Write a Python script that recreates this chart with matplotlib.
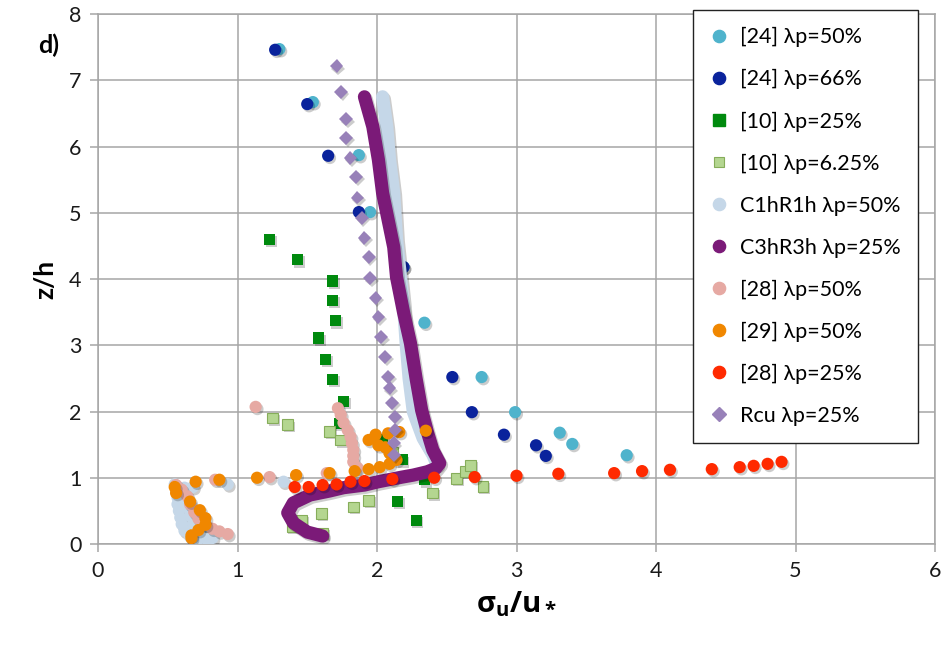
import matplotlib
matplotlib.use("Agg")
import matplotlib.pyplot as plt
from matplotlib.lines import Line2D
import matplotlib.patheffects as pe

plt.rcParams['font.family'] = ['Lato', 'DejaVu Sans']
plt.rcParams['mathtext.fontset'] = 'custom'
plt.rcParams['mathtext.rm'] = 'Open Sans:bold'
plt.rcParams['mathtext.it'] = 'Open Sans:bold'
plt.rcParams['mathtext.bf'] = 'Open Sans:bold'

# ---------------- data ----------------
# [24] lambda_p = 50%
s24_50_x = [1.30, 1.54, 1.87, 1.95, 2.19, 2.34, 2.75, 2.99, 3.31, 3.40, 3.79]
s24_50_y = [7.47, 6.67, 5.87, 5.01, 4.18, 3.34, 2.52, 1.99, 1.68, 1.51, 1.34]
# [24] lambda_p = 66%
s24_66_x = [1.27, 1.50, 1.65, 1.87, 2.19, 2.54, 2.68, 2.91, 3.14, 3.21]
s24_66_y = [7.46, 6.64, 5.86, 5.01, 4.18, 2.52, 1.99, 1.65, 1.49, 1.33]
# [10] lambda_p = 25%
s10_25_x = [1.23, 1.43, 1.68, 1.68, 1.70, 1.58, 1.63, 1.68, 1.76, 1.73, 2.04, 2.18, 2.34, 2.15, 2.28]
s10_25_y = [4.60, 4.29, 3.97, 3.68, 3.37, 3.11, 2.79, 2.48, 2.15, 1.82, 1.57, 1.27, 0.97, 0.64, 0.36]
# [10] lambda_p = 6.25%
s10_6_x = [1.25, 1.36, 1.66, 1.74, 2.11, 1.94, 1.83, 1.60, 1.46, 1.39, 1.61, 2.40, 2.76, 2.57, 2.63, 2.67]
s10_6_y = [1.90, 1.80, 1.70, 1.57, 1.39, 0.66, 0.56, 0.46, 0.36, 0.26, 0.16, 0.77, 0.87, 0.99, 1.09, 1.19]
# C1hR1h lambda_p = 50% (dense profile + near-ground points)
c1_trace_x = [2.04, 2.07, 2.09, 2.12, 2.14, 2.16, 2.19, 2.21, 2.23, 2.26, 2.33, 2.40, 2.43]
c1_trace_y = [6.75, 6.30, 5.80, 5.30, 4.60, 4.20, 3.60, 3.00, 2.50, 2.00, 1.60, 1.35, 1.20]
c1_pts_x = [1.33, 0.93, 0.68, 0.55, 0.56, 0.57, 0.57, 0.58, 0.59, 0.60, 0.62, 0.66, 0.72, 0.78, 0.82,
            0.62, 0.63, 0.64, 0.66, 0.68, 0.72, 0.76]
c1_pts_y = [0.94, 0.90, 0.86, 0.90, 0.80, 0.70, 0.60, 0.50, 0.40, 0.30, 0.20, 0.11, 0.07, 0.07, 0.09,
            0.85, 0.70, 0.55, 0.42, 0.30, 0.20, 0.12]
# C3hR3h lambda_p = 25% (dense profile)
c3_x = [1.91, 1.97, 2.01, 2.04, 2.08, 2.12, 2.14, 2.19, 2.24, 2.28, 2.32, 2.36, 2.40, 2.45, 2.42,
        2.36, 2.26, 2.18, 2.01, 1.91, 1.76, 1.66, 1.52, 1.40, 1.36, 1.40, 1.50, 1.61]
c3_y = [6.75, 6.30, 5.80, 5.30, 4.89, 4.48, 4.03, 3.50, 3.03, 2.50, 2.02, 1.70, 1.42, 1.22, 1.14,
        1.09, 1.04, 1.01, 0.94, 0.89, 0.85, 0.80, 0.74, 0.62, 0.47, 0.32, 0.18, 0.12]
# [28] lambda_p = 50%
s28_50_x = [1.13, 1.23, 0.84, 1.64, 1.72, 1.74, 1.76, 1.79, 1.81, 1.82, 1.83, 1.83, 1.83, 1.86,
            0.56, 0.60, 0.64, 0.66, 0.69, 0.72, 0.77, 0.82, 0.87, 0.93]
s28_50_y = [2.07, 1.01, 0.97, 1.07, 2.05, 1.95, 1.83, 1.72, 1.62, 1.52, 1.42, 1.33, 1.24, 1.15,
            0.89, 0.82, 0.72, 0.60, 0.48, 0.38, 0.29, 0.23, 0.19, 0.15]
# [29] lambda_p = 50%
s29_50_x = [0.67, 0.67, 0.72, 0.77, 0.77, 0.73, 0.66, 0.56, 0.55, 0.70, 0.87, 1.14, 1.42, 1.66,
            1.84, 1.94, 2.02, 2.09, 2.14, 2.09, 2.06, 2.01, 1.94, 1.99, 2.08, 2.16, 2.35]
s29_50_y = [0.09, 0.13, 0.21, 0.29, 0.39, 0.51, 0.64, 0.77, 0.86, 0.94, 0.97, 1.00, 1.04, 1.07,
            1.10, 1.13, 1.16, 1.21, 1.27, 1.37, 1.46, 1.49, 1.57, 1.65, 1.67, 1.69, 1.71]
# [28] lambda_p = 25%
s28_25_x = [1.41, 1.51, 1.61, 1.71, 1.81, 1.91, 2.11, 2.41, 2.70, 3.00, 3.30, 3.70, 3.90, 4.10,
            4.40, 4.60, 4.70, 4.80, 4.90]
s28_25_y = [0.86, 0.86, 0.89, 0.90, 0.94, 0.95, 0.98, 1.00, 1.01, 1.03, 1.06, 1.07, 1.10, 1.12,
            1.13, 1.16, 1.18, 1.21, 1.24]
# Rcu lambda_p = 25%
rcu_x = [1.71, 1.74, 1.78, 1.78, 1.81, 1.85, 1.86, 1.89, 1.91, 1.94, 1.95, 1.99, 2.01, 2.03,
         2.06, 2.08, 2.09, 2.11, 2.13, 2.13, 2.12, 2.12]
rcu_y = [7.21, 6.82, 6.41, 6.13, 5.83, 5.54, 5.23, 4.92, 4.62, 4.33, 4.01, 3.71, 3.43, 3.12,
         2.82, 2.52, 2.35, 2.13, 1.92, 1.72, 1.52, 1.34]

labels = ['[24] λp=50%', '[24] λp=66%', '[10] λp=25%', '[10] λp=6.25%', 'C1hR1h λp=50%',
          'C3hR3h λp=25%', '[28] λp=50%', '[29] λp=50%', '[28] λp=25%', 'Rcu λp=25%']
x_ticks = [0, 1, 2, 3, 4, 5, 6]
y_ticks = [0, 1, 2, 3, 4, 5, 6, 7, 8]

# ---------------- style ----------------
c24_50 = '#4fb3cc'
c24_66 = '#0a239c'
c10_25 = '#008a0e'
c10_6f, c10_6e = '#b4d690', '#86ad5a'
c1 = '#c5d7e8'
c3 = '#7b1a78'
c28_50 = '#e6a9a3'
c29 = '#f08700'
c28_25 = '#ff2a00'
crcu = '#9881b9'
grid_c = '#a6a6a6'

shadow = [pe.SimplePatchShadow(offset=(1.3, -1.6), shadow_rgbFace='#000000', alpha=0.2), pe.Normal()]
lshadow = [pe.SimpleLineShadow(offset=(1.3, -1.6), shadow_color='#000000', alpha=0.2), pe.Normal()]

fig = plt.figure(figsize=(9.43, 6.47), dpi=100)
ax = fig.add_axes([98/943, 1 - 544/647, (935 - 98)/943, (544 - 14)/647])

ms = 8.8
ms_sq = 8.0
ms_d = 7.0
def pts(x, y, marker, fc, ec=None, size=ms, z=3):
    ax.plot(x, y, linestyle='none', marker=marker, markersize=size, markerfacecolor=fc,
            markeredgecolor=ec if ec else fc, markeredgewidth=0.8 if ec else 0,
            zorder=z, path_effects=shadow)

pts(s24_50_x, s24_50_y, 'o', c24_50, z=3)
pts(s24_66_x, s24_66_y, 'o', c24_66, z=3.1)
pts(s10_25_x, s10_25_y, 's', c10_25, size=ms_sq, z=3.2)
pts(s10_6_x, s10_6_y, 's', c10_6f, c10_6e, size=ms_sq - 0.3, z=3.3)
ax.plot(c1_trace_x, c1_trace_y, '-', lw=9.5, color=c1, solid_capstyle='round',
        solid_joinstyle='round', zorder=3.4, path_effects=lshadow)
pts(c1_pts_x, c1_pts_y, 'o', c1, z=3.4)
ax.plot(c3_x, c3_y, '-', lw=9.5, color=c3, solid_capstyle='round',
        solid_joinstyle='round', zorder=3.5, path_effects=lshadow)
pts(s28_50_x, s28_50_y, 'o', c28_50, z=3.6)
pts(s29_50_x, s29_50_y, 'o', c29, z=3.7)
pts(s28_25_x, s28_25_y, 'o', c28_25, z=3.8)
pts(rcu_x, rcu_y, 'D', crcu, size=ms_d, z=3.9)

ax.set_xlim(0, 6)
ax.set_ylim(0, 8)
ax.set_xticks(x_ticks)
ax.set_yticks(y_ticks)
ax.grid(True, color=grid_c, linewidth=1.1, zorder=0)
ax.set_axisbelow(True)
for s in ax.spines.values():
    s.set_color(grid_c)
    s.set_linewidth(1.1)
ax.tick_params(axis='both', direction='out', color=grid_c, width=1.1, length=6,
               labelsize=15.5, pad=6, labelcolor='#1a1a1a')

ax.set_ylabel('z/h', fontsize=19, fontweight='bold', labelpad=8)
ax.set_xlabel(r'$\sigma_u/u_*$', fontsize=21, labelpad=6)
fig.text(38/943, 1 - 45/647, 'd)', fontsize=18, fontweight='bold', va='center', ha='left')

handles = [
    Line2D([], [], ls='none', marker='o', ms=ms, mfc=c24_50, mec=c24_50),
    Line2D([], [], ls='none', marker='o', ms=ms, mfc=c24_66, mec=c24_66),
    Line2D([], [], ls='none', marker='s', ms=ms_sq, mfc=c10_25, mec=c10_25),
    Line2D([], [], ls='none', marker='s', ms=ms_sq - 0.3, mfc=c10_6f, mec=c10_6e, mew=0.8),
    Line2D([], [], ls='none', marker='o', ms=ms, mfc=c1, mec=c1),
    Line2D([], [], ls='none', marker='o', ms=ms, mfc=c3, mec=c3),
    Line2D([], [], ls='none', marker='o', ms=ms, mfc=c28_50, mec=c28_50),
    Line2D([], [], ls='none', marker='o', ms=ms, mfc=c29, mec=c29),
    Line2D([], [], ls='none', marker='o', ms=ms, mfc=c28_25, mec=c28_25),
    Line2D([], [], ls='none', marker='D', ms=ms_d, mfc=crcu, mec=crcu),
]
leg = fig.legend(handles, labels, loc='upper left', bbox_to_anchor=(693/943, 1 - 10/647),
                 fontsize=15.5, frameon=True, fancybox=False, framealpha=1, edgecolor='#222222',
                 labelspacing=1.02, handlelength=0.8, handletextpad=0.6, borderpad=0.8,
                 borderaxespad=0)
leg.get_frame().set_linewidth(1.0)
leg.set_zorder(10)

fig.savefig('out.png', dpi=100)
